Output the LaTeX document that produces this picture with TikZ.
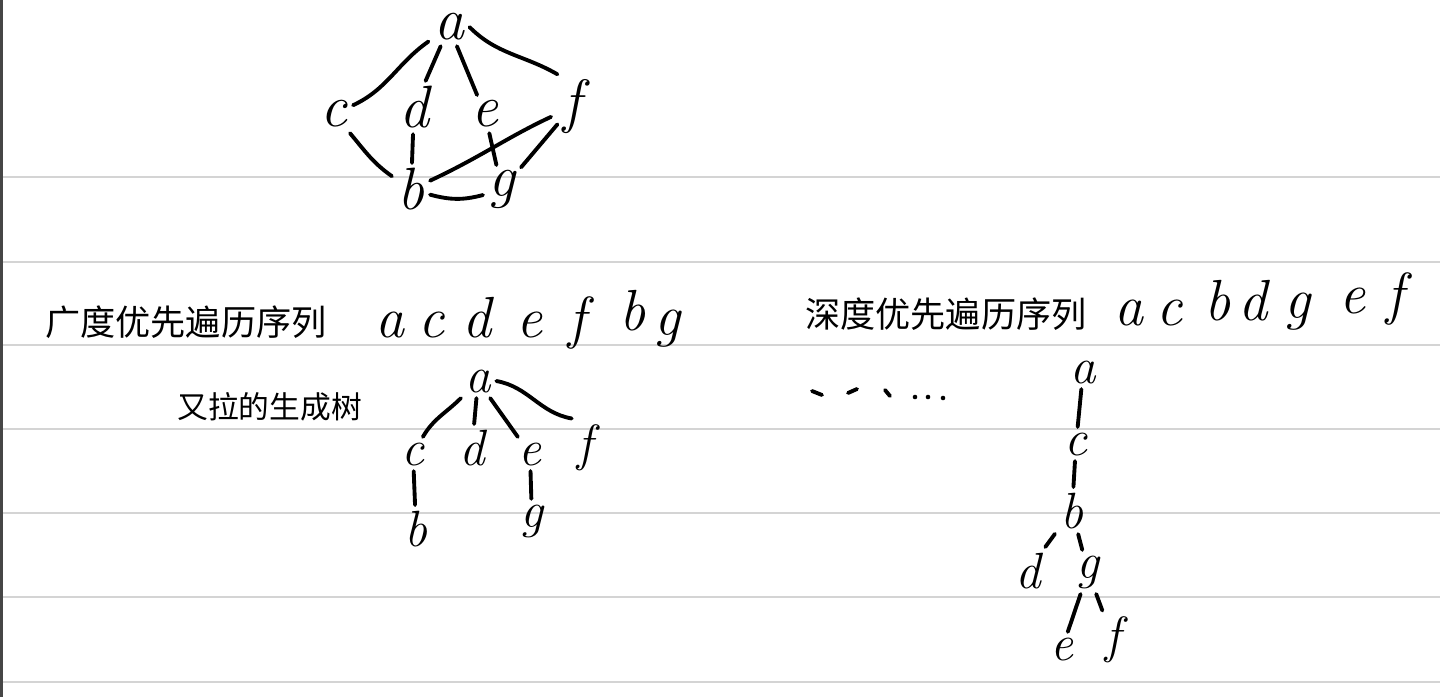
\documentclass[tikz,border=0pt]{standalone}
\usepackage{fontspec}
\newfontfamily\cjkHand{Noto Sans CJK SC}
\definecolor{ruleGray}{RGB}{212,212,212}
\definecolor{marginDark}{RGB}{70,70,70}
\begin{document}
\begin{tikzpicture}[x=0.2mm,y=-0.2mm,
		vtxBig/.style={anchor=base,inner sep=3pt,font=\fontsize{34}{34}\selectfont\itshape},
		vtxSmall/.style={anchor=base,inner sep=3pt,font=\fontsize{29}{29}\selectfont\itshape},
		seqWord/.style={anchor=base,inner sep=0pt,font=\fontsize{33}{33}\selectfont\itshape},
		hanText/.style={anchor=base west,inner sep=0pt,font=\cjkHand},
		penStroke/.style={line width=2.2pt,line cap=round,line join=round},
		ruleLine/.style={ruleGray,line width=1.5pt}]
		\newcommand*{\hanBig}{\fontsize{20}{20}\selectfont}
		\newcommand*{\hanSmall}{\fontsize{17.5}{17.5}\selectfont}

		\fill[white] (0,0) rectangle (1440,697);
		\useasboundingbox (0,0) rectangle (1440,697);

		\draw[ruleLine] (0,177) -- (1440,177);
		\draw[ruleLine] (0,262) -- (1440,262);
		\draw[ruleLine] (0,345) -- (1440,345);
		\draw[ruleLine] (0,429) -- (1440,429);
		\draw[ruleLine] (0,513) -- (1440,513);
		\draw[ruleLine] (0,597) -- (1440,597);
		\draw[ruleLine] (0,682) -- (1440,682);
		\draw[marginDark,line width=1.6pt] (1.5,0) -- (1.5,697);

		\coordinate(A) at	(449,40);
		\coordinate(C) at	(334,127);
		\coordinate(D) at	(414,128);
		\coordinate(E) at	(485,127);
		\coordinate(F) at	(572,122);
		\coordinate(B) at	(411,210);
		\coordinate(G) at	(502,197);

		\node(a) at (A)[vtxBig]{a};
		\node(c) at (C)[vtxBig]{c};
		\node(d) at (D)[vtxBig]{d};
		\node(e) at (E)[vtxBig]{e};
		\node(f) at (F)[vtxBig]{f};
		\node(b) at (B)[vtxBig]{b};
		\node(g) at (G)[vtxBig]{g};

		\draw[penStroke] (a) to[out=215,in=25] (c);
		\draw[penStroke] (a) -- (d);
		\draw[penStroke] (a) -- (e);
		\draw[penStroke] (a.east) to[out=-45,in=150] (f.north west);
		\draw[penStroke] (c) to[out=-50,in=145] (b);
		\draw[penStroke] (d) -- (b);
		\draw[penStroke] (e) -- (g);
		\draw[penStroke] (f) -- (g);
		\draw[penStroke,shorten >=4pt] (b) to[out=25,in=205] (f);
		\draw[penStroke] (b) to[out=-15,in=195] (g);

		\node(bfsTitle) at (45,335)[hanText]{\hanBig 广度优先遍历序列};
		\node(bfsA) at (390,337)[seqWord]{a};
		\node(bfsC) at (432,337)[seqWord]{c};
		\node(bfsD) at (477,337)[seqWord]{d};
		\node(bfsE) at (530,337)[seqWord]{e};
		\node(bfsF) at (577,337)[seqWord]{f};
		\node(bfsB) at (633,330)[seqWord]{b};
		\node(bfsG) at (668,335)[seqWord]{g};

		\node(dfsTitle) at (805,327)[hanText]{\hanBig 深度优先遍历序列};
		\node(dfsA) at (1129,325)[seqWord]{a};
		\node(dfsC) at (1170,325)[seqWord]{c};
		\node(dfsB) at (1218,320)[seqWord]{b};
		\node(dfsD) at (1253,320)[seqWord]{d};
		\node(dfsG) at (1298,318)[seqWord]{g};
		\node(dfsE) at (1353,313)[seqWord]{e};
		\node(dfsF) at (1395,313)[seqWord]{f};

		\node(treeTitle) at (177,418)[hanText]{\hanSmall 又拉的生成树};

		\coordinate(A2) at	(478,392);
		\coordinate(C2) at	(413,465);
		\coordinate(D2) at	(472,465);
		\coordinate(E2) at	(530,465);
		\coordinate(F2) at	(585,460);
		\coordinate(B2) at	(416,546);
		\coordinate(G2) at	(532,527);

		\node(a2) at (A2)[vtxSmall]{a};
		\node(c2) at (C2)[vtxSmall]{c};
		\node(d2) at (D2)[vtxSmall]{d};
		\node(e2) at (E2)[vtxSmall]{e};
		\node(f2) at (F2)[vtxSmall]{f};
		\node(b2) at (B2)[vtxSmall]{b};
		\node(g2) at (G2)[vtxSmall]{g};

		\draw[penStroke] (a2) to[out=225,in=60] (c2);
		\draw[penStroke] (a2) -- (d2);
		\draw[penStroke] (a2) -- (e2);
		\draw[penStroke] (a2.east) to[out=-10,in=170] (f2.north west);
		\draw[penStroke] (c2) -- (b2);
		\draw[penStroke] (e2) -- (g2);

		\draw[penStroke] (812,391) -- (822,395);
		\draw[penStroke] (848,393) -- (857,389);
		\draw[penStroke] (885,390) -- (890,396);
		\fill (915,397) circle (1.3pt);
		\fill (928,397) circle (1.3pt);
		\fill (943,398) circle (1.3pt);

		\coordinate(A3) at	(1083,383);
		\coordinate(C3) at	(1076,455);
		\coordinate(B3) at	(1072,528);
		\coordinate(D3) at	(1028,588);
		\coordinate(G3) at	(1088,578);
		\coordinate(E3) at	(1062,660);
		\coordinate(F3) at	(1113,652);

		\node(a3) at (A3)[vtxSmall]{a};
		\node(c3) at (C3)[vtxSmall]{c};
		\node(b3) at (B3)[vtxSmall]{b};
		\node(d3) at (D3)[vtxSmall]{d};
		\node(g3) at (G3)[vtxSmall]{g};
		\node(e3) at (E3)[vtxSmall]{e};
		\node(f3) at (F3)[vtxSmall]{f};

		\draw[penStroke] (a3) -- (c3);
		\draw[penStroke] (c3) -- (b3);
		\draw[penStroke] (b3) -- (d3);
		\draw[penStroke] (b3) -- (g3);
		\draw[penStroke] (g3) -- (e3);
		\draw[penStroke] (g3) -- (f3);
\end{tikzpicture}
\end{document}
